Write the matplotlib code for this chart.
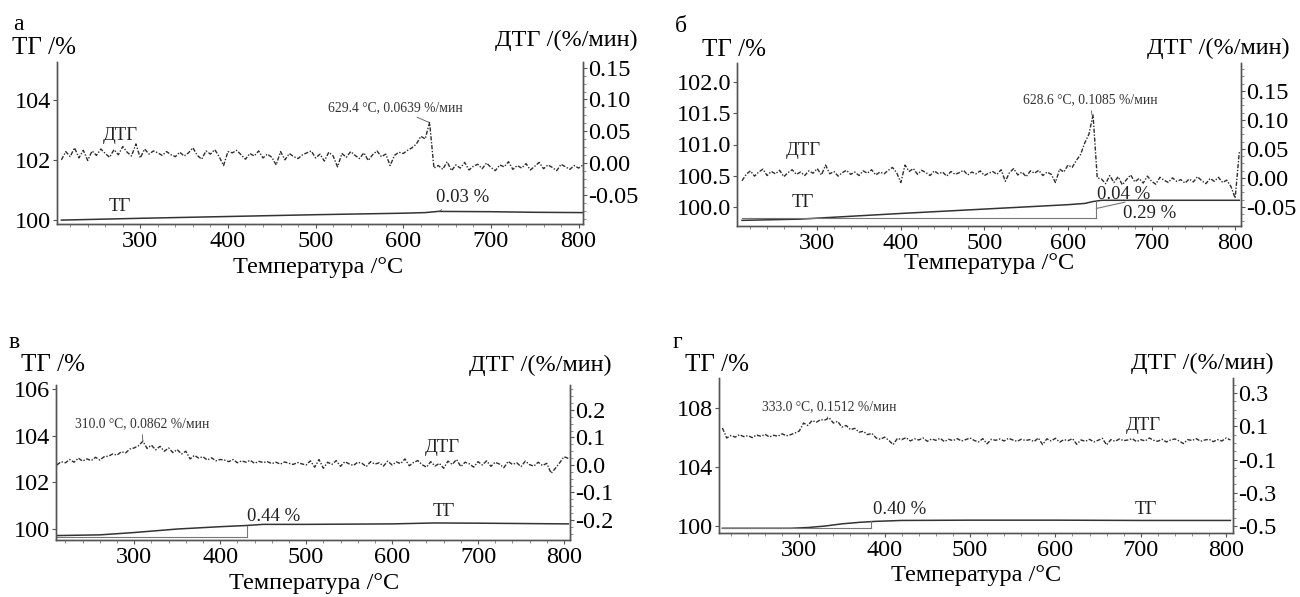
import matplotlib
matplotlib.use("Agg")
import matplotlib.pyplot as plt
from matplotlib.ticker import MultipleLocator, AutoMinorLocator, FormatStrFormatter
import numpy as np

plt.rcParams['font.family'] = ['Liberation Serif', 'DejaVu Serif']
plt.rcParams['axes.unicode_minus'] = False

# temperature grid for DTG curves (every 5 °C)
dtg_T = np.arange(210, 806, 5)

# --- panel а ---
dtg_a = [0.005, 0.018, 0.010, 0.024, 0.008, 0.020, 0.004, 0.019, 0.012, 0.022,
         0.015, 0.009, 0.021, 0.013, 0.026, 0.017, 0.011, 0.030, 0.008, 0.022,
         0.014, 0.019, 0.016, 0.012, 0.018, 0.013, 0.010, 0.017, 0.011,
         0.016, 0.024, 0.012, 0.006, 0.019, 0.014, 0.021, 0.010, -0.004, 0.018,
         0.016, 0.020, 0.013, 0.006, 0.015, 0.011, 0.019, 0.008, 0.014, 0.009,
         -0.003, 0.018, 0.005, 0.015, 0.010, 0.007, 0.013, 0.016, 0.019, 0.008,
         0.014, 0.003, 0.017, 0.011, -0.006, 0.015, 0.009, 0.018, 0.012, 0.007,
         0.016, 0.004, 0.013, 0.019, 0.010, 0.014, -0.004, 0.012, 0.017, 0.015,
         0.020, 0.024, 0.030, 0.042, 0.038, 0.0639,
         -0.008,
         -0.004, -0.010, 0.002, -0.012, -0.003, -0.008, 0.001, -0.011, -0.005, -0.002,
         -0.009, 0.000, -0.007, -0.012, -0.003, -0.006, 0.002, -0.010, -0.004, -0.008,
         -0.001, -0.011, -0.005, 0.001, -0.009, -0.003, -0.007, -0.012, -0.002, -0.006,
         -0.010, -0.004, -0.008, -0.003]
tg_T_a = [210, 300, 400, 500, 600, 625, 640, 700, 750, 805]
tg_a = [100.00, 100.06, 100.12, 100.18, 100.23, 100.25, 100.29, 100.28, 100.26, 100.25]

# --- panel б ---
dtg_b = [-0.005, 0.006, 0.012, 0.003, 0.010, 0.015, 0.004, 0.011, 0.007, 0.013,
         0.002, 0.009, 0.014, 0.006, 0.010, 0.004, 0.012, 0.008, 0.016, 0.005,
         0.022, 0.007, 0.011, 0.003, 0.009, 0.013, 0.006, 0.010, 0.004, 0.012,
         0.008, 0.014, 0.005, 0.010, 0.007, 0.013, 0.018, 0.009, -0.008, 0.022,
         0.011, 0.016, 0.006, 0.013, 0.009, 0.004, 0.012, 0.007, 0.010, 0.003,
         0.011, 0.006, 0.009, 0.013, 0.005, 0.010, 0.007, 0.012, 0.004, 0.008,
         0.011, 0.006, 0.014, -0.006, 0.009, 0.016, 0.005, 0.010, 0.002, 0.012,
         0.008, 0.013, 0.004, 0.010, 0.006, -0.008,
         0.015, 0.010, 0.022, 0.018, 0.030, 0.040, 0.060, 0.075, 0.1085,
         0.000,
         -0.002, -0.010, 0.004, -0.008, 0.002, -0.012, -0.003, 0.005, -0.007, -0.001,
         -0.009, 0.003, -0.006, -0.011, 0.001, -0.004, -0.008, 0.000, -0.006, -0.003,
         -0.009, -0.002, -0.007, 0.002, -0.005, -0.010, -0.001, -0.006, 0.001, -0.008,
         -0.004, -0.015,
         -0.035, 0.045]
tg_T_b = [210, 280, 400, 500, 600, 620, 630, 640, 700, 805]
tg_b = [99.79, 99.81, 99.90, 99.97, 100.04, 100.06, 100.09, 100.11, 100.11, 100.11]

# --- panel в ---
dtg_c = [0.000, 0.012, 0.008, 0.020, 0.010, 0.025, 0.014, 0.022, 0.016, 0.028, 0.018, 0.030,
         0.032, 0.040, 0.036, 0.048, 0.044, 0.058, 0.062, 0.070,
         0.0862,
         0.060, 0.072, 0.055, 0.068, 0.050, 0.062, 0.045, 0.056, 0.040, 0.050,
         0.022, 0.035, 0.025, 0.030, 0.018, 0.026, 0.015, 0.020,
         0.018, 0.012, 0.020, 0.008, 0.015, 0.010, 0.017, 0.006, 0.013, 0.009,
         0.012, 0.005, 0.010, 0.003, 0.011, 0.006, 0.002, 0.009, 0.004, 0.000,
         0.015, -0.008, 0.020, -0.012, 0.010, 0.002, 0.016, -0.005, 0.012, 0.004,
         -0.002, 0.010, 0.006, -0.006, 0.012, 0.003, 0.008, -0.004, 0.014, 0.000,
         0.011, 0.005, 0.022, -0.003, 0.009, 0.016, 0.001, -0.008, 0.012, -0.004,
         0.006, -0.012, 0.014, 0.002, 0.020, -0.006, 0.010, 0.004, -0.008, 0.012,
         0.000, 0.015, -0.005, 0.010, 0.003, -0.010, 0.013, 0.002, 0.008, -0.006,
         0.014, 0.001, -0.004, 0.010, -0.002, 0.006,
         -0.030, -0.012, 0.008, 0.030, 0.024]
tg_T_c = [210, 260, 300, 350, 400, 430, 450, 500, 600, 650, 700, 805]
tg_c = [99.72, 99.75, 99.85, 100.00, 100.10, 100.15, 100.20, 100.20, 100.22, 100.26, 100.25, 100.22]

# --- panel г ---
dtg_d = [0.090,
         0.030, 0.045, 0.035, 0.050, 0.038, 0.044, 0.032, 0.048, 0.040, 0.052,
         0.036, 0.046, 0.041, 0.055, 0.043, 0.050,
         0.060, 0.072, 0.120, 0.105, 0.135, 0.125, 0.140, 0.138,
         0.1512,
         0.120, 0.130, 0.095, 0.105, 0.080, 0.088, 0.065, 0.070, 0.050, 0.058,
         0.030, 0.022, 0.035, 0.015, -0.010, 0.028, 0.020, 0.032, 0.012, 0.025,
         0.018, 0.030, 0.010, 0.024, 0.016, 0.028, 0.008, 0.022, 0.014, 0.026,
         0.012, 0.020, 0.030, 0.015, 0.006, 0.026, -0.005, 0.022, 0.016, 0.024,
         0.012, 0.028, 0.018, 0.010, 0.022, 0.015, 0.020, 0.008, 0.030, -0.010,
         0.025, 0.012, 0.028, 0.005, 0.020, 0.014, 0.026, -0.008, 0.018, 0.010,
         0.022, 0.006, 0.016, 0.028, -0.012, 0.020, 0.010, 0.024, 0.014, 0.018,
         0.026, 0.008, 0.020, 0.012, 0.030, 0.016, 0.010, 0.022, 0.006, 0.018,
         0.024, 0.012, -0.004, 0.020, 0.015, 0.026, 0.010, 0.018, 0.022, 0.008,
         0.020, 0.012, 0.030, 0.018]
tg_T_d = [210, 290, 310, 330, 350, 370, 390, 420, 500, 600, 700, 805]
tg_d = [99.85, 99.85, 99.90, 100.00, 100.15, 100.25, 100.32, 100.38, 100.40, 100.40, 100.38, 100.38]

# peaks (T, DTG) and their labels
peaks = [(629.4, 0.0639), (628.6, 0.1085), (310.0, 0.0862), (333.0, 0.1512)]
peak_texts = ["629.4 °C, 0.0639 %/мин", "628.6 °C, 0.1085 %/мин",
              "310.0 °C, 0.0862 %/мин", "333.0 °C, 0.1512 %/мин"]
letters = ["а", "б", "в", "г"]

W, H = 1300, 597
fig = plt.figure(figsize=(13, 5.97), dpi=100)


def px(x, y):
    return x / W, 1 - y / H


def make_panel(rect, xlim, ylim, ylim2, yticks, yfmt, yticks2, y2fmt):
    l, t, r, b = rect
    ax = fig.add_axes([l / W, 1 - b / H, (r - l) / W, (b - t) / H])
    ax2 = ax.twinx()
    ax.set_xlim(*xlim)
    ax.set_ylim(*ylim)
    ax2.set_ylim(*ylim2)
    ax.set_xticks([300, 400, 500, 600, 700, 800])
    ax.xaxis.set_minor_locator(MultipleLocator(20))
    ax.set_yticks(yticks)
    ax.yaxis.set_major_formatter(FormatStrFormatter(yfmt))
    ax2.set_yticks(yticks2)
    ax2.yaxis.set_major_formatter(FormatStrFormatter(y2fmt))
    ax2.yaxis.set_minor_locator(AutoMinorLocator(4))
    for a in (ax, ax2):
        a.spines['top'].set_visible(False)
        for s in a.spines.values():
            s.set_color('#555555')
            s.set_linewidth(1.0)
        a.tick_params(labelsize=17.5, length=3, width=0.8, color='#555555', pad=1)
        a.tick_params(which='minor', length=2, width=0.6, color='#777777')
    ax.tick_params(axis='x', pad=2)
    ax.patch.set_visible(False)
    return ax, ax2


dash = (0, (3, 1.2, 1, 1.2))
dtg_kw = dict(color='#2e2e2e', lw=1.0, linestyle=dash)
tg_kw = dict(color='#333333', lw=1.1)
ref_kw = dict(color='#777777', lw=0.8)
ann_kw = dict(fontsize=9.8, color='#333333')
lbl_kw = dict(fontsize=13.5, color='#222222', ha='center', va='center')
line_kw = dict(arrowstyle='-', lw=0.6, color='#555555', shrinkB=0)

# panel а
ax, ax2 = make_panel((57, 62, 583, 224), (205, 805), (99.87, 105.27), (-0.096, 0.159),
                     [100, 102, 104], '%d', [-0.05, 0.0, 0.05, 0.10, 0.15], '%.2f')
ax.plot(tg_T_a, tg_a, **tg_kw)
ax2.plot(dtg_T, dtg_a, **dtg_kw)
ax2.annotate(peak_texts[0], xy=peaks[0], xytext=(591, 0.0866), ha='center', va='center',
             arrowprops=dict(shrinkA=0, **line_kw), **ann_kw)
ax.annotate("0.03 %", xy=(640, 100.28), xytext=(668, 100.77), ha='center', va='center',
            fontsize=13.5, color='#222222', arrowprops=dict(shrinkA=2, **line_kw))
ax.text(277, 102.83, "ДТГ", **lbl_kw)
ax.text(277, 100.45, "ТГ", **lbl_kw)

# panel б
ax, ax2 = make_panel((737, 63, 1241, 226), (204, 807), (99.70, 102.30), (-0.083, 0.198),
                     [100.0, 100.5, 101.0, 101.5, 102.0], '%.1f',
                     [-0.05, 0.0, 0.05, 0.10, 0.15], '%.2f')
ax.plot(tg_T_b, tg_b, **tg_kw)
ax.plot([210, 634], [99.82, 99.82], **ref_kw)
ax.plot([634, 634], [99.82, 100.10], **ref_kw)
ax2.plot(dtg_T, dtg_b, **dtg_kw)
ax2.annotate(peak_texts[1], xy=peaks[1], xytext=(627, 0.134), ha='center', va='center',
             arrowprops=dict(shrinkA=1, **line_kw), **ann_kw)
ax.text(667, 100.21, "0.04 %", **lbl_kw)
ax.text(698, 99.90, "0.29 %", **lbl_kw)
ax.plot([634, 668], [99.98, 100.08], **ref_kw)
ax.text(283, 100.91, "ДТГ", **lbl_kw)
ax.text(283, 100.07, "ТГ", **lbl_kw)

# panel в
ax, ax2 = make_panel((56, 385, 570, 540), (209, 807), (99.53, 106.17), (-0.273, 0.291),
                     [100, 102, 104, 106], '%d', [-0.2, -0.1, 0.0, 0.1, 0.2], '%.1f')
ax.plot(tg_T_c, tg_c, **tg_kw)
ax.plot([210, 431], [99.66, 99.66], **ref_kw)
ax.plot([431, 431], [99.66, 100.15], **ref_kw)
ax2.plot(dtg_T, dtg_c, **dtg_kw)
ax2.annotate(peak_texts[2], xy=peaks[2], xytext=(309, 0.149), ha='center', va='center',
             arrowprops=dict(shrinkA=1, **line_kw), **ann_kw)
ax.text(462, 100.55, "0.44 %", **lbl_kw)
ax.text(660, 100.73, "ТГ", **lbl_kw)
ax.text(658, 103.5, "ДТГ", **lbl_kw)

# panel г
ax, ax2 = make_panel((719, 378, 1233, 533), (206, 808), (99.53, 110.03), (-0.542, 0.391),
                     [100, 104, 108], '%d', [-0.5, -0.3, -0.1, 0.1, 0.3], '%.1f')
ax.plot(tg_T_d, tg_d, **tg_kw)
ax.plot([210, 384], [99.90, 99.90], **ref_kw)
ax.plot([384, 384], [99.90, 100.32], **ref_kw)
ax2.plot(dtg_T, dtg_d, **dtg_kw)
ax2.annotate(peak_texts[3], xy=peaks[3], xytext=(335, 0.221), ha='center', va='center',
             arrowprops=dict(shrinkA=1, **line_kw), **ann_kw)
ax.text(418, 101.1, "0.40 %", **lbl_kw)
ax.text(706, 101.1, "ТГ", **lbl_kw)
ax.text(703, 106.8, "ДТГ", **lbl_kw)

# axis titles, panel letters and x labels
letter_pos = [(18, 24), (681, 27), (14, 342), (677, 342)]
tg_pos = [(12, 48), (702, 50), (21, 365), (685, 365)]
dtg_pos = [(638, 40), (1290, 48), (612, 365), (1274, 363)]
xl_pos = [(318, 268), (989, 263), (314, 583), (976, 576)]
for i in range(4):
    fig.text(*px(*letter_pos[i]), letters[i], fontsize=17, ha='center', va='center')
    fig.text(*px(*tg_pos[i]), "ТГ /%", fontsize=18, ha='left', va='center')
    fig.text(*px(*dtg_pos[i]), "ДТГ /(%/мин)", fontsize=17.5, ha='right', va='center')
    fig.text(*px(*xl_pos[i]), "Температура /°C", fontsize=17.5, ha='center', va='center')

fig.savefig("out.png", dpi=100)
